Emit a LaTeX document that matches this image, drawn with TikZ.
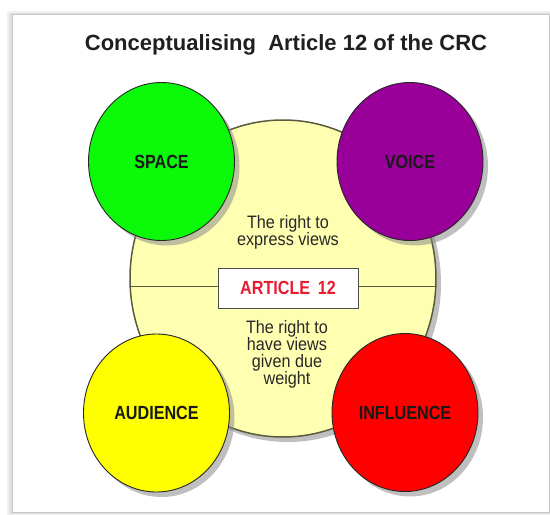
\documentclass[tikz,border=0pt]{standalone}
\usepackage{fontspec}
\setmainfont{Liberation Sans}
\newfontfamily\narrowfont{Liberation Sans}[FakeStretch=0.85]
\newfontfamily\bodyfont{Liberation Sans}[FakeStretch=0.9]
\usetikzlibrary{shapes.geometric,shadows}
\definecolor{cgreen}{RGB}{10,250,10}
\definecolor{cpurple}{RGB}{153,0,153}
\definecolor{cyellow}{RGB}{255,255,0}
\definecolor{cred}{RGB}{255,0,0}
\definecolor{cpale}{RGB}{255,255,178}
\definecolor{cedge}{RGB}{90,90,60}
\definecolor{ctext}{RGB}{40,40,40}
\definecolor{cart}{RGB}{232,28,48}
\tikzset{
  shade/.style={drop shadow={shadow xshift=5pt, shadow yshift=-5pt, fill=black!45, opacity=0.55}},
  bubble/.style={ellipse, draw=black!85, line width=0.9pt, minimum width=146, minimum height=158,
    inner sep=0pt, shade, font=\narrowfont\bfseries\fontsize{19}{19}\selectfont, text=black!90},
  hub/.style={ellipse, draw=cedge, line width=1.5pt, fill=cpale, minimum width=306, minimum height=317,
    inner sep=0pt, shade},
  bodytext/.style={align=center, text=ctext, font=\bodyfont\fontsize{18}{17}\selectfont, inner sep=0pt},
  artbox/.style={rectangle, draw=black!70, line width=0.9pt, fill=white, minimum width=140, minimum height=40,
    text=cart, font=\narrowfont\bfseries\fontsize{19}{19}\selectfont},
  titletext/.style={font=\bfseries\fontsize{22}{22}\selectfont, text=black!88}
}
\begin{document}
\begin{tikzpicture}[x=1pt,y=-1pt]
\useasboundingbox (0,0) rectangle (550,515);
% card with soft shadow
\fill[black!6] (7,11) rectangle (555,516);
\fill[black!12] (9,12.5) rectangle (553,514);
\fill[white,draw=black!22,line width=0.6pt] (12,14) rectangle (549,512);
\node[titletext] (title) at (286,45) {Conceptualising \ Article 12 of the CRC};
% central circle
\node[hub] (hub) at (283,278.5) {};
\draw[cedge, line width=1.5pt] (hub.center) ++(-152.6,8) -- ++(305.2,0);
\node[artbox] (art) at (288,288) {ARTICLE\, 12};
\node[bodytext] (express) at (288,232) {The right to\\express views};
\node[bodytext] (weight) at (287,354) {The right to\\have views\\given due\\weight};
% four circles
\node[bubble, fill=cgreen] (space) at (161.5,161.5) {SPACE};
\node[bubble, fill=cpurple] (voice) at (410,161.5) {VOICE};
\node[bubble, fill=cyellow] (audience) at (156.5,413) {AUDIENCE};
\node[bubble, fill=cred] (influence) at (405,412.5) {INFLUENCE};
\end{tikzpicture}
\end{document}
